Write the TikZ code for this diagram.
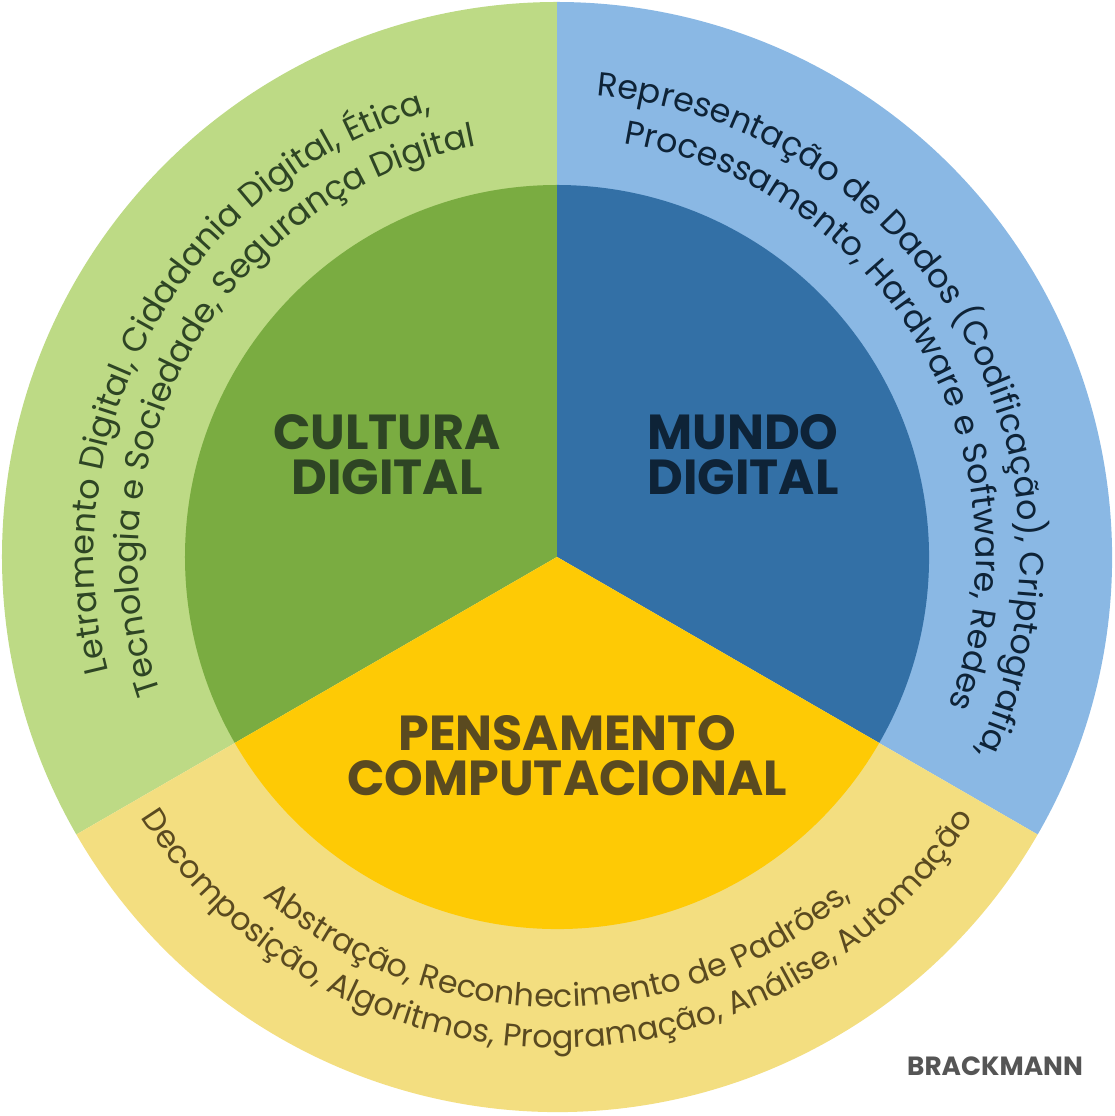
\documentclass[tikz,border=0pt]{standalone}
\usepackage{fontspec}
\setmainfont{Poppins}
\usetikzlibrary{decorations.text}

\definecolor{ringgreen}{HTML}{BDDA85}
\definecolor{coregreen}{HTML}{7AAC41}
\definecolor{ringblue}{HTML}{8AB8E4}
\definecolor{coreblue}{HTML}{3370A6}
\definecolor{ringyellow}{HTML}{F3DE80}
\definecolor{coreyellow}{HTML}{FECA05}
\definecolor{inkgreen}{HTML}{2E4524}
\definecolor{inkblue}{HTML}{0E2337}
\definecolor{inkbrown}{HTML}{5A4A20}
\definecolor{inkgray}{HTML}{555555}

\newcommand{\arcfont}{\fontsize{19}{22}\selectfont}
\newcommand{\lowarcfont}{\fontsize{18}{21}\selectfont}

\begin{document}
\begin{tikzpicture}[
    heading/.style={font=\fontsize{28}{25.6}\selectfont\bfseries, align=center},
    arctext/.style={decorate, decoration={text along path, text align=center, text color=#1}}
]
    \useasboundingbox (-11.14,-11.18) rectangle (11.14,11.14);

    % ring and core sectors
    \foreach \a/\ring/\core in {90/ringgreen/coregreen, -30/ringblue/coreblue, 210/ringyellow/coreyellow}{
        \fill[\ring] (0,0) -- (\a:11.1) arc[start angle=\a, end angle=\a+120, radius=11.1] -- cycle;
        \fill[\core] (0,0) -- (\a:7.44) arc[start angle=\a, end angle=\a+120, radius=7.44] -- cycle;
    }

    \node[heading, text=inkgreen] (cultura) at (-3.4,2.04) {CULTURA\\DIGITAL};
    \node[heading, text=inkblue] (mundo) at (3.72,2.04) {MUNDO\\DIGITAL};
    \node[heading, text=inkbrown] (pensamento) at (0.2,-3.98) {PENSAMENTO\\COMPUTACIONAL};

    % curved texts
    \path[arctext=inkgreen, decoration={text={|\arcfont|Letramento Digital, Cidadania Digital, Ética,}}]
        (210:9.26) arc[start angle=210, end angle=90, radius=9.26];
    \path[arctext=inkgreen, decoration={text={|\arcfont|Tecnologia e Sociedade, Segurança Digital}}]
        (210:8.38) arc[start angle=210, end angle=90, radius=8.38];
    \path[arctext=inkblue, decoration={text={|\arcfont|Representação de Dados (Codificação), Criptografia,}}]
        (90:9.26) arc[start angle=90, end angle=-30, radius=9.26];
    \path[arctext=inkblue, decoration={text={|\arcfont|Processamento, Hardware e Software, Redes}}]
        (90:8.38) arc[start angle=90, end angle=-30, radius=8.38];
    \path[arctext=inkbrown, decoration={text={|\lowarcfont|Abstração, Reconhecimento de Padrões,}}]
        (210:9.0) arc[start angle=210, end angle=330, radius=9.0];
    \path[arctext=inkbrown, decoration={text={|\lowarcfont|Decomposição, Algoritmos, Programação, Análise, Automação}}]
        (210:9.82) arc[start angle=210, end angle=330, radius=9.82];

    \node[font=\fontsize{15}{18}\selectfont\bfseries, text=inkgray] (autor) at (8.76,-10.18) {BRACKMANN};
\end{tikzpicture}
\end{document}
